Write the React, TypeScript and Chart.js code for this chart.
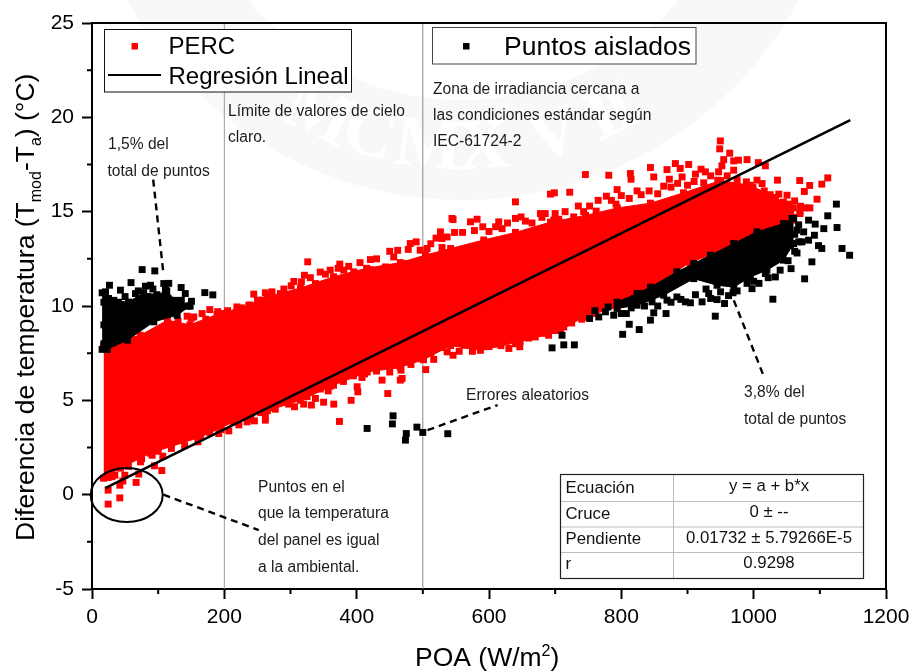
import React, { useEffect, useRef } from "react";
import { Chart, registerables } from "chart.js";

Chart.register(...registerables);

type P = [number, number];

const redTop: P[] = [[17.4,7.9],[43,8.2],[73,8.45],[114,9.25],[148,9.0],[189,9.55],[239,10.05],[265,10.5],[315,10.95],[365,11.55],[415,12.0],[466,12.3],[504,12.7],[542,13.05],[592,13.5],[640,13.9],[693,14.45],[746,14.8],[794,15.2],[844,15.45],[894,16.0],[950,16.65],[995,16.4],[1033,15.75],[1060,15.2],[1060,14.7]];
const redBottom: P[] = [[17.4,0.87],[43,1.4],[88,2.2],[164,3.05],[214,3.85],[265,4.45],[315,5.0],[365,5.8],[416,6.5],[466,6.75],[501,7.15],[542,7.9],[587,7.65],[647,8.1],[708,8.7],[742,9.4],[794,9.95],[844,11.0],[904,12.3],[945,12.85],[1010,13.75],[1060,14.55]];

const redOutliers: P[] = [[143.8,9.46],[153.8,9.42],[166.4,9.6],[178,9.81],[199,9.6],[219,9.95],[237,10.04],[244.5,10.63],[255.6,10.31],[277,10.4],[284.8,10.66],[301,11.07],[316.5,11.28],[321,11.63],[326,12.34],[337.7,11.19],[352.8,11.69],[374.5,12.22],[380.5,11.9],[395.6,11.81],[420.8,12.46],[419.8,11.93],[443.5,12.07],[456,12.6],[473.7,12.25],[481,13.31],[496,12.96],[506.5,13.05],[526.6,13.93],[529,13.58],[536.7,13.66],[529,13.1],[544,14.64],
[545.7,14.58],[572,14.46],[582,14.6],[590.6,14.2],[614.7,14.46],[619.8,14.1],[640,14.64],[648.5,14.72],[640,15.52],[692.8,15.93],[698.8,16.0],[722,16.03],[677.7,14.9],[685,14.9],[698,14.55],[705.4,14.6],[728,14.72],[743,15.0],[745.7,16.97],[781,16.93],[762,15.03],[777.4,15.82],[793.6,16.17],[792,15.4],[813.7,17.02],[814.7,16.72],[823.8,16.1],[844,17.34],[849,16.84],[864,16.35],[869,17.23],[872.6,16.72],[881.7,17.55],[889,17.29],[891.8,16.84],[901.8,17.5],[912,16.99],[920.5,17.25],[927,17.11],[924.5,16.53],[945.7,16.67],[947,17.11],[952,17.43],[949.7,18.75],[948.7,18.33],[963.8,18.1],[954.7,17.76],[969.8,17.69],[977,17.73],[990,17.76],[969.8,17.2],[1007,17.6],[1017.7,17.43],[989,16.58],[1005,16.67],[1012.7,16.49],[999,16.28],[1016,16.1],[1036,16.67],[1038,15.93],[1050.4,15.87],[1069.6,16.65],[1084.7,16.39],[1076.6,16.07],[1103,16.46],[1112,16.79],[1095.8,15.66],[1062,15.57],[1070.6,15.29],[1027.8,15.34],[1000,15.6],[980,15.78],
[24.4,0.91],[34.5,1.03],[49.6,1.03],[46.6,0.72],[70.7,1.09],[66.7,0.65],[24.4,0.24],[42,0.5],[42,-0.17],[24.4,-0.5],[94.4,1.53],[105.5,1.28],[73.3,1.74],[90.9,2.09],[107,2.04],[191.6,3.24],[206.7,3.38],[234.4,3.86],[245.5,3.91],[262,3.95],[262,4.21],[277,4.53],[297,4.8],[306,4.66],[320,4.8],[331.6,4.75],[337.7,5.1],[350,4.9],[365.4,4.8],[357,5.5],[374,3.88],[391.6,5.0],[401.7,5.45],[400.7,5.72],[438.4,6.07],[447,5.36],[466,6.07],[468.7,6.16],[467,6.6],[408,6.21],[504.4,6.63],[497.4,7.2],[476,7.34],[516.5,7.17],[536.7,7.57],
[545.7,7.39],[564.4,7.92],[592,7.84],[607,7.98],[630,7.75],[646.5,7.84],[713,8.89],[690,8.45],[670,8.36],[652.5,8.63],[622,8.54],[604.7,8.45]];
const redUpperEdge: P[] = [[130,9.2],[150,9.35],[172,9.3],[190,9.7],[205,9.75],[226,9.9],[250,10.3],[262,10.7],[272,10.75],[290,10.9],[305,11.3],[330,11.5],[345,11.8],[360,11.9],[372,12.0],[388,12.1],[405,12.3],[430,12.5],[450,12.9],[462,12.95],[478,13.0],[490,13.4],[512,13.3],[520,13.6],[548,13.9],[560,13.9],[578,14.0],[600,13.95],[610,14.2],[628,14.4],[655,14.5],[665,14.4],[680,14.7],[700,14.9],[715,15.0],[735,15.3],[752,15.3],[765,15.6],[785,15.6],[800,15.85],[812,15.7],[830,15.9],[842,16.1],[855,15.95],[875,16.3],[885,16.5],[900,16.4],[910,16.6],[935,16.9],[960,16.9],[975,16.7],[985,16.2],[1015,15.75],[1025,15.9],[1045,15.5],[1055,15.4],[1070,15.0],[1078,15.2],[1085,15.2],[1070,14.9],[1040,15.1],[1000,15.9]];
const redLowerEdge: P[] = [[30,0.95],[55,1.5],[75,1.9],[100,2.3],[120,2.45],[140,2.6],[160,2.8],[178,3.3],[195,3.45],[222,3.7],[240,4.0],[255,4.35],[272,4.6],[290,5.0],[310,5.1],[325,5.2],[345,5.6],[360,5.75],[380,6.0],[395,6.3],[412,6.4],[430,6.55],[450,6.5],[458,6.85],[482,6.9],[490,7.3],[512,7.5],[528,7.8],[555,7.6],[575,7.6],[600,7.85],[618,7.9],[640,8.0],[660,8.3],[680,8.55],[700,8.7],[725,9.1],[740,9.3],[760,9.6],[775,9.9]];

const blackRightTop: P[] = [[793.6,10.2],[823.8,10.66],[844,11.0],[884,11.81],[909.4,12.25],[934.6,12.69],[970,13.31],[1005,13.93],[1045,14.37],[1058,14.64],[1060.5,14.64]];
const blackRightBottom: P[] = [[793.6,9.87],[823.8,10.04],[864,10.57],[909.4,11.45],[944.7,11.1],[970,11.0],[995,11.54],[1020,11.9],[1045,12.43],[1060.5,13.31]];

const blackLeftTop: P[] = [[15.3,10.7],[33,10.3],[55,10.2],[78,10.7],[98,10.6],[113,10.8],[126,10.3],[148,10.0]];
const blackLeftBottom: P[] = [[15.3,7.7],[22.9,7.7],[53.6,8.19],[93.4,9.16],[128.7,9.51],[148,10.0]];

const blackOutliers: P[] = [[752,9.34],[765.9,9.42],[776,9.69],[788.5,9.51],[796,10.09],[808.7,10.22],[807.6,9.6],[831,10.66],[846.4,10.22],[849,9.64],[844,9.25],[867.6,9.6],[812,9.03],[827,8.75],[802,8.5],[869,10.31],[884,10.48],[896.8,10.22],[904.4,10.17],[922,10.22],[932,10.66],[944.7,10.34],[956,10.13],[968.8,10.7],[942,9.46],[985,11.54],[1000,11.31],[997.5,10.92],[1017.7,11.72],[1032.8,11.54],[1056.5,11.98],[1029,10.36],[1077,11.44],[1088,12.34],[1065.5,12.81],[1055.5,13.2],[1073,13.4],[1083,13.49],[1098,13.2],[1103,13.05],[1075.6,13.93],[1091.8,13.75],[1106,14.1],[1083,14.55],[1093,14.34],[1112,14.78],[1126,14.16],[1125,15.4],[1133.5,13.05],[1145,12.69],[1065.5,14.02],[710.4,8.45],[695.3,7.78],[713,7.94],[729,7.94],
[415.8,3.51],[455,4.18],[454,3.75],[475,3.24],[473.7,2.89],[491,3.58],[499.9,3.3],[537.7,3.23],
[26.4,11.1],[59,11.24],[75.8,11.93],[94.9,11.86],[43,10.84],[20.4,10.75],[65.7,10.66],[80.8,11.05],[88.4,11.1],[108.5,11.19],[116,11.2],[111,10.84],[134.7,10.98],[141,10.66],[150.3,10.25],[170.5,10.71],[182.6,10.59],[129.7,10.13],[35.5,10.04],[43,9.42],[58,10.2],[70.7,10.3],[98.4,10.48],[123.6,9.87]];
const blackLowerEdge: P[] = [[800,9.6],[815,9.9],[835,10.0],[855,10.0],[875,10.2],[890,10.35],[912,10.6],[928,10.9],[935,10.4],[950,10.75],[962,10.55],[975,10.8],[990,11.2],[1008,11.2],[1022,11.5],[1040,11.9],[1052,12.4],[1062,12.9],[1068,13.4],[1062,13.8],[1068,14.3],[760,9.75],[780,9.95],[820,10.4],
[18,10.2],[25,10.4],[30,9.9],[40,10.2],[48,10.0],[62,9.6],[75,9.9],[85,9.6],[105,9.9],[118,9.8],[135,10.3],[145,10.0],[92,10.9],[70,10.8],[50,10.5],[18,9],[18,8],[27,8.2],[35,8.7]];

const regression: P[] = [[20,0.346],[1146,19.85]];
const limitLine200: P[] = [[200,-5],[200,25]];
const limitLine500: P[] = [[500,-5],[500,25]];
const leader15: P[] = [[92.5,16.7],[108,11.7]];
const leader38: P[] = [[970,10.3],[1015,6.3]];
const leaderErrores: P[] = [[507,3.42],[613,4.75]];
const leaderPuntos: P[] = [[108,0],[252,-1.88]];

const xTicks = { min: 0, max: 1200, step: 200, minor: [100, 300, 500, 700, 900, 1100] };
const yTicks = { min: -5, max: 25, step: 5, minor: [-2.5, 2.5, 7.5, 12.5, 17.5, 22.5] };

const tableRows: [string, string][] = [
  ["Ecuación", "y = a + b*x"],
  ["Cruce", "0 ± --"],
  ["Pendiente", "0.01732 ± 5.79266E-5"],
  ["r", "0.9298"],
];
const notes: [string, number, number][] = [
  ["Límite de valores de cielo", 228, 116],
  ["claro.", 228, 142],
  ["Zona de irradiancia cercana a", 433, 94],
  ["las condiciones estándar según", 433, 120],
  ["IEC-61724-2", 433, 146],
  ["1,5% del", 108, 149],
  ["total de puntos", 107.5, 176],
  ["3,8% del", 744, 397],
  ["total de puntos", 744, 424],
  ["Errores aleatorios", 466, 400],
  ["Puntos en el", 258, 492],
  ["que la temperatura", 258, 518],
  ["del panel es igual", 258, 545],
  ["a la ambiental.", 258, 572],
];
const sealLetters: [string, number][] = [["M", -26], ["C", -16.5], ["M", -6], ["X", 3.5], ["V", 16], ["I", 25], ["I", 28.5]];

const FONT = '"Liberation Sans", Arial, sans-serif';
const xy = (a: P[]) => a.map(([x, y]) => ({ x, y }));
const MARK = 4.9;

const lineDs = (label: string, pts: P[], color: string, width: number, dash: number[] = []) => ({
  type: "line", label, data: xy(pts), borderColor: color, borderWidth: width, borderDash: dash,
  pointRadius: 0, tension: 0, fill: false,
});
const scatterDs = (label: string, pts: P[], color: string) => ({
  type: "scatter", label, data: xy(pts), backgroundColor: color, borderColor: color, borderWidth: 0,
  pointStyle: "rect", pointRadius: MARK,
});
const bandTop = (label: string, pts: P[], color: string) => ({
  type: "line", label, data: xy(pts), borderColor: color, backgroundColor: color, borderWidth: 1,
  pointStyle: "rect", pointRadius: MARK, pointBackgroundColor: color, pointBorderWidth: 0, tension: 0, fill: "+1",
});
const bandBottom = (label: string, pts: P[], color: string) => ({
  type: "line", label, data: xy(pts), borderColor: color, borderWidth: 1,
  pointStyle: "rect", pointRadius: MARK, pointBackgroundColor: color, pointBorderWidth: 0, tension: 0, fill: false,
});

const decorations = {
  id: "decorations",
  beforeDraw(chart: any) {
    const c = chart.ctx;
    c.save();
    const cx = 463, cy = -182;
    c.strokeStyle = "#f8f8f8";
    c.lineWidth = 100;
    c.beginPath();
    c.arc(cx, cy, 332, 0, Math.PI * 2);
    c.stroke();
    c.fillStyle = "#ffffff";
    c.font = "bold 72px 'Liberation Serif', serif";
    c.textAlign = "center";
    c.textBaseline = "middle";
    for (const [l, deg] of sealLetters) {
      const a = (deg * Math.PI) / 180;
      c.save();
      c.translate(cx + 332 * Math.sin(a), cy + 332 * Math.cos(a));
      c.rotate(-a);
      c.fillText(l, 0, 0);
      c.restore();
    }
    c.restore();
  },
  afterDraw(chart: any) {
    const c = chart.ctx;
    const X = chart.scales.x, Y = chart.scales.y;
    const { left, right, top, bottom } = chart.chartArea;
    c.save();
    c.strokeStyle = "#000";
    c.lineWidth = 2;
    c.beginPath();
    c.moveTo(left, bottom); c.lineTo(left, top); c.lineTo(right, top); c.lineTo(right, bottom);
    c.stroke();
    // minor ticks
    c.beginPath();
    for (const v of xTicks.minor) { const p = X.getPixelForValue(v); c.moveTo(p, bottom); c.lineTo(p, bottom + 5); }
    for (const v of yTicks.minor) { const p = Y.getPixelForValue(v); c.moveTo(left, p); c.lineTo(left - 5, p); }
    c.stroke();

    // ellipse round the near-zero points
    c.lineWidth = 2;
    c.beginPath();
    c.ellipse(126.7, 495, 36, 27, 0, 0, Math.PI * 2);
    c.stroke();

    // legend 1
    c.fillStyle = "#fff";
    c.lineWidth = 1;
    c.strokeStyle = "#111";
    c.fillRect(104.5, 29.5, 247, 62.5);
    c.strokeRect(104.5, 29.5, 247, 62.5);
    c.fillStyle = "#ff0000";
    c.fillRect(131.5, 43, 6.5, 6.5);
    c.strokeStyle = "#000";
    c.lineWidth = 2.2;
    c.beginPath(); c.moveTo(108, 75); c.lineTo(161, 75); c.stroke();
    c.fillStyle = "#000";
    c.textAlign = "left";
    c.textBaseline = "alphabetic";
    c.font = `24px ${FONT}`;
    c.fillText("PERC", 168.5, 54);
    c.fillText("Regresión Lineal", 168.5, 84);
    // legend 2
    c.fillStyle = "#fff";
    c.lineWidth = 1;
    c.strokeStyle = "#444";
    c.fillRect(432.5, 27.5, 263.5, 36.5);
    c.strokeRect(432.5, 27.5, 263.5, 36.5);
    c.fillStyle = "#000";
    c.fillRect(463, 43, 6.5, 6.5);
    c.font = `26.5px ${FONT}`;
    c.fillText("Puntos aislados", 504, 54.5);

    // notes
    c.fillStyle = "#1c1c1c";
    c.font = `15.6px ${FONT}`;
    for (const [t, x, y] of notes) c.fillText(t, x, y);

    // table
    const tx = [560.5, 673.5, 863.5];
    const ty = [474.5, 501.5, 527, 552.5, 578.5];
    c.fillStyle = "#fff";
    c.fillRect(tx[0], ty[0], tx[2] - tx[0], ty[4] - ty[0]);
    c.strokeStyle = "#bdbdbd";
    c.lineWidth = 1;
    c.beginPath();
    c.moveTo(tx[1], ty[0]); c.lineTo(tx[1], ty[4]);
    for (const y of ty.slice(1, 4)) { c.moveTo(tx[0], y); c.lineTo(tx[2], y); }
    c.stroke();
    c.strokeStyle = "#222";
    c.lineWidth = 1.2;
    c.strokeRect(tx[0], ty[0], tx[2] - tx[0], ty[4] - ty[0]);
    c.fillStyle = "#111";
    c.font = `16.8px ${FONT}`;
    const leftBase = [493, 519, 544, 569];
    const rightBase = [491, 517, 543, 568];
    tableRows.forEach(([a, b], i) => {
      c.textAlign = "left";
      c.fillText(a, 565.5, leftBase[i]);
      c.textAlign = "center";
      c.fillText(b, 769, rightBase[i]);
    });

    // axis titles with sub and superscripts
    c.fillStyle = "#000";
    c.textAlign = "left";
    const runs = (parts: [string, number, number][], x: number, y: number) => {
      let px = x;
      for (const [t, size, dy] of parts) {
        c.font = `${size}px ${FONT}`;
        c.fillText(t, px, y + dy);
        px += c.measureText(t).width;
      }
    };
    runs([["POA (W/m", 26.5, 0], ["2", 16, -10], [")", 26.5, 0]], 415, 666);
    c.save();
    c.translate(34, 541);
    c.rotate(-Math.PI / 2);
    runs([["Diferencia de temperatura (T", 26.5, 0], ["mod", 16, 7], ["-T", 26.5, 0], ["a", 16, 7], [") (°C)", 26.5, 0]], 0, 0);
    c.restore();
    c.restore();
  },
};

export default function App() {
  const ref = useRef<HTMLCanvasElement>(null);
  useEffect(() => {
    const chart = new Chart(ref.current as HTMLCanvasElement, {
      type: "scatter",
      data: {
        datasets: [
          lineDs("Regresión Lineal", regression, "#000", 2.6),
          lineDs("Guía 1,5%", leader15, "#000", 2.4, [7, 5]),
          lineDs("Guía 3,8%", leader38, "#000", 2.4, [7, 5]),
          lineDs("Guía errores", leaderErrores, "#000", 2.4, [7, 5]),
          lineDs("Guía puntos", leaderPuntos, "#000", 2.4, [7, 5]),
          scatterDs("Puntos aislados", blackOutliers, "#000"),
          scatterDs("Puntos aislados borde", blackLowerEdge, "#000"),
          bandTop("Puntos aislados izquierda", blackLeftTop, "#000"),
          bandBottom("borde izquierda", blackLeftBottom, "#000"),
          bandTop("Puntos aislados derecha", blackRightTop, "#000"),
          bandBottom("borde derecha", blackRightBottom, "#000"),
          scatterDs("PERC", redOutliers, "#ff0000"),
          scatterDs("PERC borde superior", redUpperEdge, "#ff0000"),
          scatterDs("PERC borde inferior", redLowerEdge, "#ff0000"),
          bandTop("PERC nube", redTop, "#ff0000"),
          bandBottom("PERC borde", redBottom, "#ff0000"),
          lineDs("Límite 200", limitLine200, "#9a9a9a", 1),
          lineDs("Límite 500", limitLine500, "#8a8a8a", 1),
        ] as any,
      },
      options: {
        animation: false,
        responsive: false,
        devicePixelRatio: 1,
        layout: { autoPadding: false, padding: { top: 23, right: 24, left: 0, bottom: 0 } },
        plugins: { legend: { display: false }, tooltip: { enabled: false }, title: { display: false } },
        scales: {
          x: {
            type: "linear",
            min: xTicks.min,
            max: xTicks.max,
            afterFit: (s: any) => { s.height = 82; s.paddingLeft = 0; s.paddingRight = 0; },
            border: { color: "#000", width: 2 },
            grid: { drawOnChartArea: false, tickLength: 10, tickColor: "#000", tickWidth: 2 },
            ticks: { stepSize: xTicks.step, color: "#000", padding: 6, maxRotation: 0, font: { size: 21, family: FONT }, callback: (v: any) => String(v) },
          },
          y: {
            type: "linear",
            min: yTicks.min,
            max: yTicks.max,
            afterFit: (s: any) => { s.width = 92; s.paddingTop = 0; s.paddingBottom = 0; },
            border: { color: "#000", width: 2 },
            grid: { drawOnChartArea: false, tickLength: 10, tickColor: "#000", tickWidth: 2 },
            ticks: { stepSize: yTicks.step, color: "#000", padding: 8, font: { size: 21, family: FONT }, callback: (v: any) => String(v) },
          },
        },
      } as any,
      plugins: [decorations],
    });
    return () => chart.destroy();
  }, []);
  return (
    <canvas
      ref={ref}
      width={910}
      height={671}
      style={{ position: "absolute", left: 0, top: 0, width: 910, height: 671, display: "block" }}
    />
  );
}
